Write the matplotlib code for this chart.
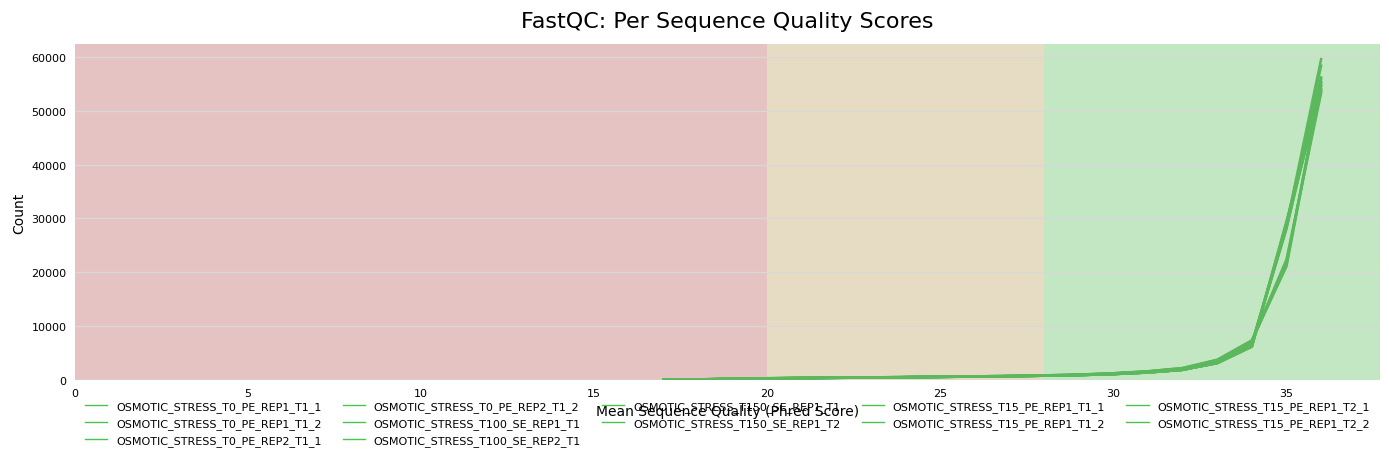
import matplotlib
matplotlib.use("Agg")
import matplotlib.pyplot as plt

# mean phred score bins
quality = [17, 18, 19, 20, 21, 22, 23, 24, 25, 26, 27, 28,
           29, 30, 31, 32, 33, 34, 35, 36]

samples = [
    "OSMOTIC_STRESS_T0_PE_REP1_T1_1",
    "OSMOTIC_STRESS_T0_PE_REP1_T1_2",
    "OSMOTIC_STRESS_T0_PE_REP2_T1_1",
    "OSMOTIC_STRESS_T0_PE_REP2_T1_2",
    "OSMOTIC_STRESS_T100_SE_REP1_T1",
    "OSMOTIC_STRESS_T100_SE_REP2_T1",
    "OSMOTIC_STRESS_T150_SE_REP1_T1",
    "OSMOTIC_STRESS_T150_SE_REP1_T2",
    "OSMOTIC_STRESS_T15_PE_REP1_T1_1",
    "OSMOTIC_STRESS_T15_PE_REP1_T1_2",
    "OSMOTIC_STRESS_T15_PE_REP1_T2_1",
    "OSMOTIC_STRESS_T15_PE_REP1_T2_2",
]

counts = [
    [20, 90, 180, 290, 340, 390, 440, 500, 560, 620, 690, 780,
     900, 1100, 1400, 1900, 3300, 6800, 28800, 59600],
    [20, 85, 175, 285, 335, 385, 435, 495, 555, 615, 685, 775,
     890, 1080, 1380, 1880, 3250, 6700, 28400, 58400],
    [18, 80, 170, 280, 330, 380, 430, 490, 550, 610, 680, 770,
     880, 1070, 1370, 1860, 3200, 6600, 28100, 55200],
    [18, 80, 170, 280, 330, 380, 430, 490, 550, 610, 680, 770,
     880, 1070, 1370, 1860, 3200, 6650, 28300, 55900],
    [22, 95, 190, 300, 350, 400, 460, 520, 580, 650, 720, 820,
     950, 1200, 1550, 2100, 3600, 7100, 22000, 54000],
    [22, 95, 190, 300, 350, 400, 460, 520, 580, 650, 720, 820,
     950, 1200, 1550, 2100, 3650, 7200, 22400, 53300],
    [24, 100, 195, 310, 360, 410, 470, 530, 590, 660, 735, 840,
     980, 1230, 1600, 2200, 3700, 7300, 21400, 55300],
    [24, 100, 195, 310, 360, 410, 470, 530, 590, 660, 735, 840,
     980, 1230, 1600, 2200, 3750, 7350, 21100, 54700],
    [19, 82, 172, 282, 332, 382, 432, 492, 552, 612, 682, 772,
     885, 1075, 1375, 1870, 3150, 6300, 29200, 56200],
    [19, 82, 172, 282, 332, 382, 432, 492, 552, 612, 682, 772,
     885, 1075, 1375, 1870, 3100, 6200, 28900, 54500],
    [21, 88, 178, 288, 338, 388, 438, 498, 558, 618, 690, 780,
     895, 1090, 1390, 1890, 3150, 6250, 29500, 53600],
    [21, 88, 178, 288, 338, 388, 438, 498, 558, 618, 690, 780,
     895, 1090, 1390, 1890, 3100, 6150, 29100, 53900],
]

fig, ax = plt.subplots(figsize=(13.89, 4.6), dpi=100)
fig.subplots_adjust(left=0.054, right=0.9935, top=0.902, bottom=0.172)

ax.axvspan(0, 20, color="#e6c3c3", zorder=0, lw=0)
ax.axvspan(20, 28, color="#e6dcc3", zorder=0, lw=0)
ax.axvspan(28, 40, color="#c3e6c3", zorder=0, lw=0)

for name, c in zip(samples, counts):
    ax.plot(quality, c, color="#5cb85c", lw=1.8, label=name, zorder=2)

ax.set_xlim(0, 37.7)
ax.set_ylim(0, 62400)
ax.yaxis.grid(True, color="#d8d8d8", lw=1, zorder=1)
ax.set_axisbelow(True)
for s in ax.spines.values():
    s.set_visible(False)
ax.tick_params(axis="both", length=0, labelsize=8, pad=6)
ax.set_xticks([0, 5, 10, 15, 20, 25, 30, 35])
ax.set_yticks([0, 10000, 20000, 30000, 40000, 50000, 60000])

ax.set_title("FastQC: Per Sequence Quality Scores", fontsize=16, pad=12)
ax.set_xlabel("Mean Sequence Quality (Phred Score)", fontsize=10, labelpad=4)
ax.set_ylabel("Count", fontsize=10)

leg = ax.legend(loc="upper left", bbox_to_anchor=(0.0, -0.033), ncol=5, frameon=False,
                fontsize=8, handlelength=2.0, columnspacing=1.9, labelspacing=0.55)
for h in leg.get_lines():
    h.set_color("#4cc34c")
    h.set_linewidth(1.0)

fig.savefig("out.png", dpi=100)
